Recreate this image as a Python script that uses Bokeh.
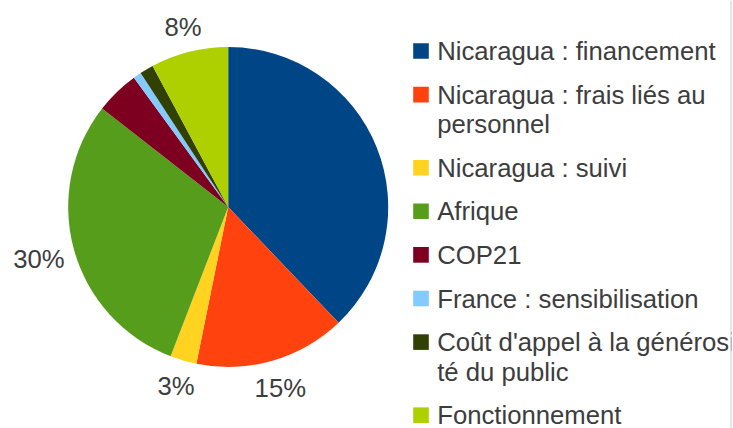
import math
from bokeh.plotting import figure
from bokeh.models import Range1d, ColumnDataSource, Span, BoxAnnotation
from bokeh.embed import file_html
from bokeh.resources import INLINE
from bokeh.core.properties import value

# ---- data ----
categories = [
    "Nicaragua : financement",
    "Nicaragua : frais liés au personnel",
    "Nicaragua : suivi",
    "Afrique",
    "COP21",
    "France : sensibilisation",
    "Coût d'appel à la générosité du public",
    "Fonctionnement",
]
legend_lines = [
    ["Nicaragua : financement"],
    ["Nicaragua : frais liés au", "personnel"],
    ["Nicaragua : suivi"],
    ["Afrique"],
    ["COP21"],
    ["France : sensibilisation"],
    ["Coût d'appel à la générosi", "té du public"],
    ["Fonctionnement"],
]
shares = [37.88, 15.31, 2.67, 29.69, 4.42, 0.81, 1.39, 7.83]
show_label = [False, True, True, True, False, False, False, True]
colors = ["#004586", "#ff420e", "#ffd320", "#579d1c",
          "#7e0021", "#83caff", "#314004", "#aecf00"]

# ---- layout (pixel coordinates, y downward) ----
W, H = 733, 428
CX, CY, R = 227.7, 206.5, 160.0
FS = 25.7
TEXT_COLOR = "#3d3d3d"
FONT = "Liberation Sans"

p = figure(width=W, height=H, x_range=Range1d(0, W), y_range=Range1d(-H, 0),
           output_backend="svg", toolbar_location=None,
           x_axis_type=None, y_axis_type=None, min_border=0)
p.min_border_left = p.min_border_right = p.min_border_top = p.min_border_bottom = 0
p.grid.visible = False
p.outline_line_color = None
p.background_fill_color = "white"
p.border_fill_color = "white"

total = sum(shares)
starts, ends, cum = [], [], 0.0
for s in shares:
    starts.append(cum / total)
    cum += s
    ends.append(cum / total)

src = ColumnDataSource(dict(
    x=[CX] * len(shares), y=[-CY] * len(shares),
    start=[math.pi / 2 - 2 * math.pi * e for e in ends],
    end=[math.pi / 2 - 2 * math.pi * s for s in starts],
    color=colors,
))
p.wedge(x="x", y="y", radius=R, radius_units="screen", start_angle="start", end_angle="end",
        direction="anticlock", fill_color="color", line_color=None, source=src)

# percentage labels
cw = {c: 0.556 for c in "0123456789"}
cw["%"] = 0.889
lx, ly, lt = [], [], []
for i, s in enumerate(shares):
    if not show_label[i]:
        continue
    txt = "%d%%" % round(100 * s / total)
    w = sum(cw[c] for c in txt) * FS
    mid = 2 * math.pi * (starts[i] + ends[i]) / 2
    dx, dy = math.sin(mid), -math.cos(mid)
    d = R + 8 + abs(dx) * w / 2 + abs(dy) * 13.6
    cx, cy = CX + d * dx, CY + d * dy
    lx.append(cx)
    ly.append(-cy)
    lt.append(txt)
p.text(x=lx, y=ly, text=lt, text_align="center", text_baseline="middle",
       text_font=value(FONT), text_font_size="%.1fpx" % FS, text_color=TEXT_COLOR)

# legend
SQ_X, TXT_X, SQ = 420.5, 436.7, 15.6
Y0, STEP, LINE = 50.5, 43.6, 29.5
sx, sy, tx, ty, tt = [], [], [], [], []
extra = 0
for i, lines in enumerate(legend_lines):
    yc = Y0 + STEP * i + LINE * extra
    sx.append(SQ_X)
    sy.append(-yc)
    for k, ln in enumerate(lines):
        tx.append(TXT_X)
        ty.append(-(yc + LINE * k))
        tt.append(ln)
    extra += len(lines) - 1
p.rect(x=sx, y=sy, width=SQ, height=SQ, width_units="screen", height_units="screen",
       fill_color=colors, line_color=None)
p.text(x=tx, y=ty, text=tt, text_align="left", text_baseline="middle",
       text_font=value(FONT), text_font_size="%.1fpx" % FS, text_color=TEXT_COLOR)

p.add_layout(BoxAnnotation(left=731, fill_color="white", fill_alpha=1.0, line_color=None))
p.add_layout(Span(location=730.5, dimension="height", line_color="#c3ccd9", line_width=1))

open("out.html", "w").write(file_html(p, INLINE))
